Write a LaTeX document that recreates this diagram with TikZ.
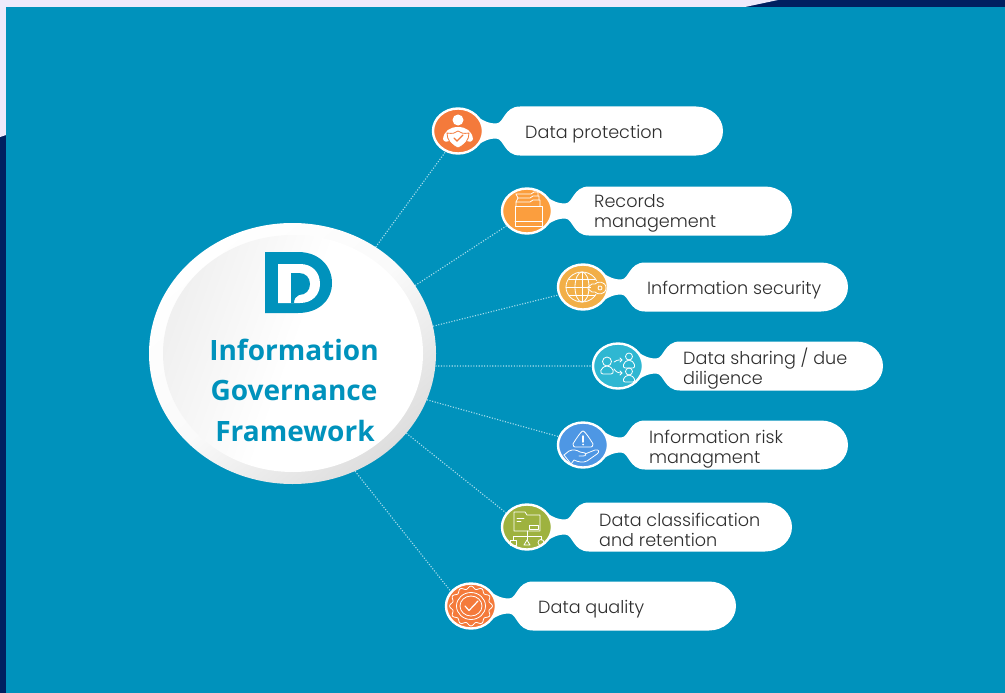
\documentclass[tikz,border=0pt]{standalone}
\usepackage{fontspec}
\setmainfont{Poppins Light}
\newfontfamily\titlefont{Open Sans}
\usetikzlibrary{shapes.geometric,calc}
\definecolor{teal}{HTML}{0092BC}
\definecolor{navy}{HTML}{002060}
\definecolor{lav}{HTML}{EEEAFB}
\definecolor{labelink}{HTML}{2E2E2E}
\definecolor{dotline}{HTML}{A8DCEC}
\definecolor{cOrange}{HTML}{F47A3B}
\definecolor{cAmber}{HTML}{FB9E3E}
\definecolor{cGold}{HTML}{F2AF47}
\definecolor{cCyan}{HTML}{2FB7D2}
\definecolor{cBlue}{HTML}{4E97E4}
\definecolor{cGreen}{HTML}{9EB23F}
\tikzset{
  x=1pt,y=-1pt,
  hub/.style={ellipse,minimum width=287pt,minimum height=261pt,inner sep=0pt,shading=axis,top color=white,bottom color=white!87!black,middle color=white!98!black,shading angle=40},
  hubface/.style={ellipse,minimum width=260pt,minimum height=237pt,inner sep=0pt,shading=axis,top color=white!94!black,bottom color=white,middle color=white,shading angle=70},
  badge/.style={ellipse,minimum width=50pt,minimum height=45pt,inner sep=0pt,draw=white,line width=2.4pt},
  hubtitle/.style={font=\titlefont\bfseries\fontsize{28}{32}\selectfont,text=teal},
  label/.style={anchor=west,align=left,text=labelink,font=\fontsize{17.6}{20}\selectfont,inner sep=0pt},
  link/.style={dotline,line width=1.1pt,dash pattern=on 1.1pt off 1.6pt},
  ico/.style={white,line width=.8pt,line join=round,line cap=round},
}
\newcommand{\bubble}[2]{%
  \fill[white,shift={(#1,#2)}] (20,-14) .. controls (27,-9) and (32,-7.5) .. (38,-7.5)
    .. controls (46,-7.5) and (46,-24.5) .. (62,-24.5) -- (238,-24.5)
    .. controls (253,-24.5) and (265,-13.5) .. (265,0)
    .. controls (265,13.5) and (253,24.5) .. (238,24.5) -- (62,24.5)
    .. controls (46,24.5) and (46,7.5) .. (38,7.5)
    .. controls (32,7.5) and (27,9) .. (20,14) -- cycle;}
\begin{document}
\begin{tikzpicture}
\useasboundingbox (0,0) rectangle (1005,693);
% backdrop
\fill[navy] (0,0) rectangle (1005,693);
\fill[lav] (0,0) -- (778,0) -- (745,7) -- (6,7) -- (6,135) -- (0,137) -- cycle;
\fill[teal] (6,7) rectangle (1005,693);
% hub
\node[hub] (core) at (292.5,353.5) {};
\node[hubface] (face) at (293,353.5) {};
\fill[teal] (265,252) -- (298,252) .. controls (319,252) and (332,266) .. (332,283)
  .. controls (332,300) and (319,313) .. (298,313) -- (265,313) -- cycle;
\fill[white] (278,264) -- (300,264) .. controls (312,264) and (320,272) .. (320,284)
  .. controls (320,295) and (312,303) .. (300,303) -- (278,303) -- cycle;
\fill[teal] (291,273) -- (299,273) .. controls (306,273) and (310,278) .. (310,284)
  .. controls (310,290) and (306,295) .. (299,295) .. controls (296,296) and (294,299) .. (294,303)
  -- (291,303) -- cycle;
\node[hubtitle] (t1) at (294,350) {Information};
\node[hubtitle] (t2) at (294,390.5) {Governance};
\node[hubtitle] (t3) at (295,430.5) {Framework};
% bubbles
\bubble{458}{131}\bubble{527}{211}\bubble{583}{287}\bubble{618}{366}\bubble{583}{445}\bubble{527}{527}\bubble{471}{606}
\node[badge,fill=cOrange] (n1) at (458,131) {};
\node[badge,fill=cAmber] (n2) at (527,211) {};
\node[badge,fill=cGold] (n3) at (583,287) {};
\node[badge,fill=cCyan] (n4) at (618,366) {};
\node[badge,fill=cBlue] (n5) at (583,445) {};
\node[badge,fill=cGreen] (n6) at (527,527) {};
\node[badge,fill=cOrange] (n7) at (471,606) {};
% connectors
\draw[link] (core.52) -- (n1.239);
\draw[link] (core.29) -- (n2.216);
\draw[link] (core.11) -- (n3.198);
\draw[link] (core.-5) -- (n4.180);
\draw[link] (core.-19) -- (n5.161);
\draw[link] (core.-35) -- (n6.146);
\draw[link] (core.-62) -- (n7.144);
% labels
\node[label] (l1) at (525,134) {Data protection};
\node[label] (l2) at (594,213) {Records\\management};
\node[label] (l3) at (647,290) {Information security};
\node[label] (l4) at (683,369) {Data sharing / due\\diligence};
\node[label] (l5) at (649,449) {Information risk\\managment};
\node[label] (l6) at (599,530) {Data classification\\and retention};
\node[label] (l7) at (538,609) {Data quality};
% icon 1: person holding shield
\begin{scope}[shift={(458,131)}]
  \fill[white] (0,-11) ellipse [x radius=5.5,y radius=5.5];
  \fill[white] (-15,8) .. controls (-14,0) and (-8,-4) .. (0,-4) .. controls (8,-4) and (14,0) .. (15,8)
    .. controls (14,11) and (12,11) .. (9,10) -- (-9,10) .. controls (-12,11) and (-14,11) .. (-15,8) -- cycle;
  \fill[white,draw=cOrange,line width=.8pt] (-11,2) .. controls (-5,3) and (-3,2) .. (0,0) .. controls (3,2) and (5,3) .. (11,2)
    .. controls (11,9) and (7,14) .. (0,17) .. controls (-7,14) and (-11,9) .. (-11,2) -- cycle;
  \draw[cOrange,line width=1.2pt,line cap=round] (-4,7) -- (-1,10) -- (5,4);
\end{scope}
% icon 2: drawers
\begin{scope}[shift={(527,211)}]
  \draw[ico] (-12,-5) rectangle (15,15);
  \draw[ico] (-12,10) -- (15,10);
  \draw[ico] (-11,-5) -- (-11,-9) -- (3,-9) -- (6,-11) -- (13,-11) -- (13,-5);
  \draw[ico] (-11,-9) -- (-9,-13) -- (3,-13) -- (6,-15) -- (12,-15) -- (12,-11);
  \draw[ico] (-11,-17) -- (4,-17) -- (7,-19) -- (11,-19) -- (11,-15);
  \draw[ico] (-11,-17) -- (-9,-13);
\end{scope}
% icon 3: globe and key
\begin{scope}[shift={(583,287)}]
  \draw[ico] (-1,0) ellipse [x radius=16,y radius=15];
  \draw[ico] (-1,0) ellipse [x radius=7,y radius=15];
  \draw[ico] (-1,-15) -- (-1,15) (-17,0) -- (8,0);
  \draw[ico] (-14,-8) -- (12,-8) (-14,8) -- (12,8);
  \fill[cGold] (8,-6) rectangle (15,7);
  \draw[ico] (5,0) -- (9,-3) -- (12,-3) .. controls (14,-6) and (23,-6) .. (23,1)
    .. controls (23,8) and (14,8) .. (12,5) -- (9,5) -- (5,2) -- cycle;
  \draw[ico] (17,1) circle [radius=2];
\end{scope}
% icon 4: people sharing
\begin{scope}[shift={(618,366)}]
  \draw[ico] (-11,-4.5) ellipse [x radius=4.5,y radius=4.5];
  \draw[ico] (-11,0) .. controls (-18,1) and (-19,8) .. (-15,8) -- (-7,8) .. controls (-3,8) and (-4,1) .. (-11,0);
  \draw[ico] (11,-9.5) ellipse [x radius=3.5,y radius=3.5];
  \draw[ico] (11,-6) .. controls (5,-5) and (4,2) .. (7,2) -- (15,2) .. controls (18,2) and (17,-5) .. (11,-6);
  \draw[ico] (11,5.5) ellipse [x radius=3.5,y radius=3.5];
  \draw[ico] (11,9) .. controls (5,10) and (4,16) .. (7,16) -- (15,16) .. controls (18,16) and (17,10) .. (11,9);
  \draw[ico] (-4,-4) .. controls (-2,-6) and (0,-6) .. (4,-6);
  \draw[ico] (2,-8) -- (4,-6) -- (2,-4);
  \draw[ico] (-4,3) .. controls (-2,6) and (0,7) .. (4,7);
  \draw[ico] (2,5) -- (4,7) -- (2,9);
\end{scope}
% icon 5: warning over hand
\begin{scope}[shift={(583,445)}]
  \draw[ico] (0,-14) .. controls (-2,-14) and (-9,-3) .. (-10,-1) .. controls (-10,1) and (-9,2) .. (-8,2) -- (8,2)
    .. controls (9,2) and (10,1) .. (10,-1) .. controls (9,-3) and (2,-14) .. (0,-14) -- cycle;
  \draw[white,line width=1.5pt,line cap=round] (0,-9) -- (0,-3);
  \fill[white] (0,-0.5) circle [radius=1];
  \draw[ico] (-19,10) -- (-14,6) .. controls (-10,4) and (-6,5) .. (-3,7) -- (2,8) .. controls (4,9) and (3,11) .. (0,11) -- (-4,11);
  \draw[ico] (2,9) -- (12,5) .. controls (16,4) and (17,7) .. (14,9) -- (4,16) .. controls (0,18) and (-5,17) .. (-9,15) -- (-12,19) -- (-19,10);
\end{scope}
% icon 6: folder and tree
\begin{scope}[shift={(527,527)}]
  \draw[ico] (-13,-3) -- (-13,-15) -- (-2,-15) -- (0,-12) -- (13,-12) -- (13,4) -- (-13,4) -- cycle;
  \draw[ico] (-10,-9) -- (-3,-9) (-10,-6) -- (-6,-6);
  \draw[ico] (2,-2) rectangle (11,2);
  \draw[ico] (0,4) -- (0,9) (-14,13) -- (-14,9) -- (14,9) -- (14,13) (0,9) -- (0,13);
  \draw[ico] (-17,13) rectangle (-11,18);
  \draw[ico] (-3,18) -- (0,13) -- (3,18) -- cycle;
  \draw[ico] (14,15.5) circle [radius=3];
\end{scope}
% icon 7: quality badge
\begin{scope}[shift={(471,606)}]
  \draw[ico,smooth,samples=145,domain=0:360] plot ({(20+1.4*cos(12*\x))*cos(\x)},{(18.5+1.4*cos(12*\x))*sin(\x)}) -- cycle;
  \draw[ico] (0,0) ellipse [x radius=14.5,y radius=13.5];
  \draw[ico] (0,0) ellipse [x radius=11,y radius=10];
  \draw[ico,line width=1.2pt] (-6,0) -- (-2,4.5) -- (7,-5);
\end{scope}
\end{tikzpicture}
\end{document}
